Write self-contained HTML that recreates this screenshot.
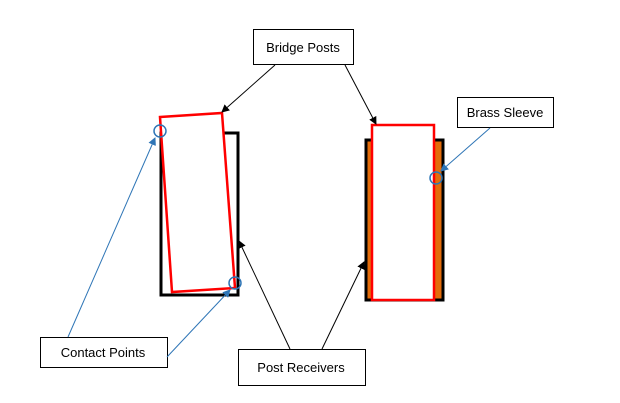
<!DOCTYPE html>
<html><head><style>html,body{margin:0;padding:0;background:#fff;width:620px;height:403px;overflow:hidden}</style></head>
<body>
<svg width="620" height="403" xmlns="http://www.w3.org/2000/svg" font-family="Liberation Sans, sans-serif" font-size="13">
<defs>
<marker id="ak" markerWidth="8" markerHeight="8" refX="7" refY="4" orient="auto" markerUnits="userSpaceOnUse"><path d="M0,0 L8,4 L0,8 z" fill="#000"/></marker>
<marker id="ab" markerWidth="8" markerHeight="8" refX="7" refY="4" orient="auto" markerUnits="userSpaceOnUse"><path d="M0,0 L8,4 L0,8 z" fill="#2e75b6"/></marker>
</defs>
<!-- left receiver -->
<rect x="161" y="133" width="77" height="162" fill="#fff" stroke="#000" stroke-width="3"/>
<polygon points="160,117 222,113 235,288 172,292" fill="#fff" stroke="#f00" stroke-width="2.5"/>
<circle cx="160" cy="131" r="6" fill="none" stroke="#2e75b6" stroke-width="1.5"/>
<circle cx="235" cy="283" r="6" fill="none" stroke="#2e75b6" stroke-width="1.5"/>
<!-- right receiver -->
<rect x="366" y="140" width="77" height="160" fill="#e36c0a" stroke="#000" stroke-width="3"/>
<rect x="372" y="125" width="62" height="175" fill="#fff" stroke="#f00" stroke-width="2.5"/>
<circle cx="436" cy="178" r="6" fill="none" stroke="#2e75b6" stroke-width="1.5"/>
<!-- boxes -->
<g fill="#fff" stroke="#000" stroke-width="1">
<rect x="253.5" y="29.5" width="100" height="35"/>
<rect x="457.5" y="97.5" width="96" height="30"/>
<rect x="40.5" y="337.5" width="127" height="30"/>
<rect x="238.5" y="349.5" width="127" height="36"/>
</g>
<g fill="#000">
<text x="303" y="52" text-anchor="middle">Bridge Posts</text>
<text x="505" y="117" text-anchor="middle">Brass Sleeve</text>
<text x="103" y="357" text-anchor="middle">Contact Points</text>
<text x="301" y="372" text-anchor="middle">Post Receivers</text>
</g>
<!-- arrows -->
<g stroke="#000" stroke-width="1">
<line x1="275" y1="65" x2="222" y2="112" marker-end="url(#ak)"/>
<line x1="345" y1="65" x2="376" y2="124" marker-end="url(#ak)"/>
<line x1="290" y1="349" x2="239" y2="241" marker-end="url(#ak)"/>
<line x1="322" y1="349" x2="364" y2="262" marker-end="url(#ak)"/>
</g>
<g stroke="#2e75b6" stroke-width="1">
<line x1="490" y1="128" x2="441" y2="171" marker-end="url(#ab)"/>
<line x1="68" y1="337" x2="155" y2="138" marker-end="url(#ab)"/>
<line x1="167" y1="357" x2="230" y2="290" marker-end="url(#ab)"/>
</g>
</svg>
</body></html>
